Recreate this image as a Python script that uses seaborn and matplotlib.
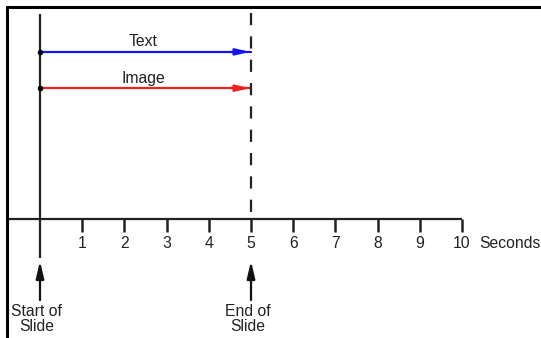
import matplotlib
matplotlib.use("Agg")
import matplotlib.pyplot as plt
from matplotlib.lines import Line2D
import seaborn as sns
import pandas as pd

# ---- data ----
events = ["Text", "Image"]
event_start = [0, 0]
event_end = [5, 5]
event_colors = ["#1414f0", "#ee2020"]
slide_start = 0
slide_end = 5
tick_values = [1, 2, 3, 4, 5, 6, 7, 8, 9, 10]
tick_labels = ["1", "2", "3", "4", "5", "6", "7", "8", "9", "10"]
axis_unit = "Seconds"
marker_labels = ["Start of\nSlide", "End of\nSlide"]

sns.set_theme(style="white")
plt.rcParams["font.family"] = ["Liberation Sans", "DejaVu Sans"]

W, H, DPI = 541, 338, 100
FS = 11.3
fig = plt.figure(figsize=(W / DPI, H / DPI), dpi=DPI)
ax = fig.add_axes([0, 0, 1, 1])
ax.axis("off")

PX = 42.2          # pixels per second
X0, Y0 = 40, 219   # pixel position of time 0 on the axis
ax.set_xlim(-X0 / PX, (W - X0) / PX)
ax.set_ylim(-(H - Y0) / PX, Y0 / PX)

# row positions for events
row_y = [3.96, 3.10]

df = pd.DataFrame({
    "t": [v for s, e in zip(event_start, event_end) for v in (s, e)],
    "y": [y for y in row_y for _ in (0, 1)],
    "event": [ev for ev in events for _ in (0, 1)],
})
sns.lineplot(data=df, x="t", y="y", hue="event", palette=dict(zip(events, event_colors)),
             linewidth=1.6, legend=False, ax=ax, estimator=None, sort=False)
for ev, s, e, y, c in zip(events, event_start, event_end, row_y, event_colors):
    ax.annotate("", xy=(e - 0.02, y), xytext=(e - 0.4, y),
                arrowprops=dict(arrowstyle="-|>,head_length=0.7,head_width=0.16",
                                color=c, lw=1.6, shrinkA=0, shrinkB=0))
    ax.plot([s], [y], "o", color="black", ms=3, zorder=5)
    ax.text((s + e) / 2 - 0.05, y + 0.24, ev, ha="center", va="center", fontsize=FS, color="#222222")

# time axis
ax.plot([(8 - X0) / PX, tick_values[-1]], [0, 0], color="#222222", lw=1.6, solid_capstyle="butt")
tick_len = 13 / PX
for tv, tl in zip(tick_values, tick_labels):
    ax.plot([tv, tv], [0, -tick_len], color="#222222", lw=1.8, solid_capstyle="butt")
    ax.text(tv, -24 / PX, tl, ha="center", va="center", fontsize=FS, color="#222222")
ax.text(tick_values[-1] + 0.42, -24 / PX, axis_unit, ha="left", va="center", fontsize=FS, color="#222222")

# slide start (solid) and end (dashed)
ax.plot([slide_start, slide_start], [(Y0 - 14) / PX, -(258 - Y0) / PX], color="#222222", lw=1.6,
        solid_capstyle="butt")
ax.plot([slide_end, slide_end], [(Y0 - 13) / PX, 0], color="#222222", lw=1.6,
        dashes=(5.5, 5.0), dash_capstyle="butt")

for xv, lab in zip([slide_start, slide_end], marker_labels):
    ax.annotate("", xy=(xv, -(261 - Y0) / PX), xytext=(xv, -(300 - Y0) / PX),
                arrowprops=dict(arrowstyle="-|>,head_length=0.85,head_width=0.2",
                                color="#111111", lw=1.6, shrinkA=0, shrinkB=0))
    ax.text(xv - 0.08, -(319 - Y0) / PX, lab, ha="center", va="center", fontsize=FS,
            color="#222222", linespacing=1.0)

# frame edges (top and left)
fig.add_artist(Line2D([7 / W, 1], [1 - 7 / H, 1 - 7 / H], color="black", lw=2.2, transform=fig.transFigure))
fig.add_artist(Line2D([7 / W, 7 / W], [0, 1 - 7 / H], color="black", lw=2.2, transform=fig.transFigure))

fig.savefig("out.png", dpi=DPI)
